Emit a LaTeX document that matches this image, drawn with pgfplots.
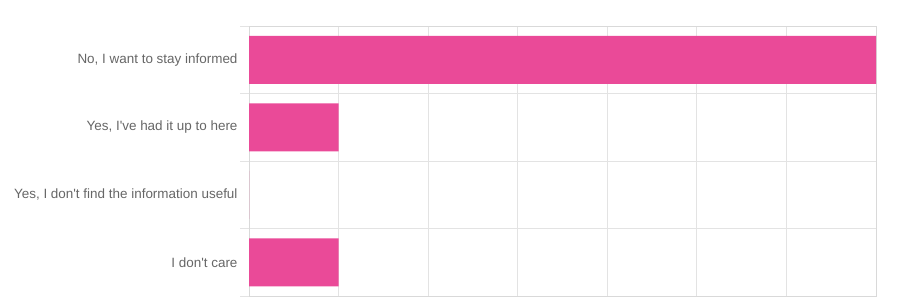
\documentclass[border=0pt]{standalone}
\usepackage{pgfplots}
\pgfplotsset{compat=1.18}
\usepackage{fontspec}
\setmainfont{Liberation Sans}
\definecolor{barpink}{HTML}{EA4A98}
\definecolor{gridgrey}{HTML}{E3E3E3}
\definecolor{labelgrey}{HTML}{666666}
\begin{document}
\begin{tikzpicture}
\path[use as bounding box] (0,0) rectangle (898bp,297bp);
\begin{axis}[
  at={(249bp,1bp)}, anchor=south west,
  width=627bp, height=270bp, scale only axis,
  xmin=0, xmax=7,
  ymin=-0.5, ymax=3.5, y dir=reverse,
  xtick={0,1,...,7}, xticklabels={},
  ytick={0,1,2,3},
  yticklabels={{No, I want to stay informed},{Yes, I\textquotesingle ve had it up to here},{Yes, I don\textquotesingle t find the information useful},{I don\textquotesingle t care}},
  minor ytick={-0.5,0.5,1.5,2.5,3.5},
  ytick pos=left,
  xmajorgrids, yminorgrids,
  grid style={gridgrey, line width=0.8bp},
  minor grid style={gridgrey, line width=0.8bp},
  major tick length=0pt,
  minor tick length=9bp,
  tick align=outside,
  tick style={gridgrey, line width=0.8bp},
  axis line style={gridgrey!90!gray, line width=0.8bp},
  yticklabel style={font=\fontsize{13.5}{15}\selectfont, text=labelgrey, anchor=east, xshift=-8bp},
  xbar, bar width=48bp, bar shift=0pt,
]
\addplot[fill=barpink, draw=none] coordinates {(7,0) (1,1) (0,2) (1,3)};
\end{axis}
\end{tikzpicture}
\end{document}
